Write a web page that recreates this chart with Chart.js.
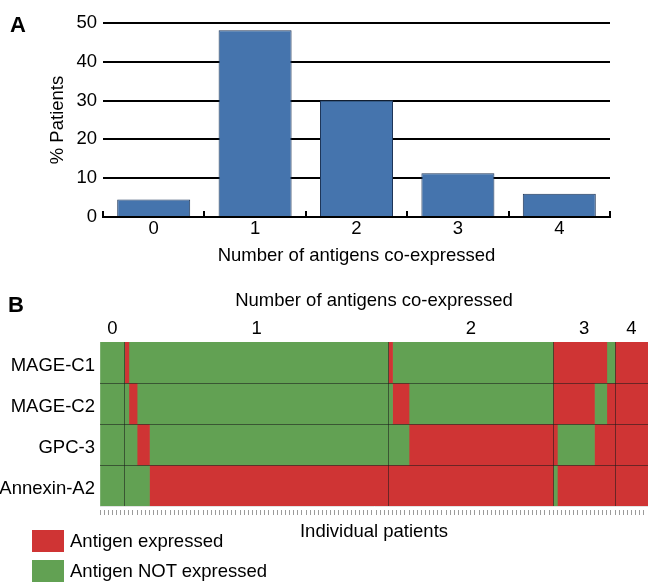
<!DOCTYPE html>
<html lang="en">
<head>
  <meta charset="UTF-8">
  <title>Antigen co-expression</title>
  <script src="https://cdn.jsdelivr.net/npm/chart.js"></script>
  <style>
    body { margin: 0; background: #fff; font-family: "Liberation Sans", Arial, sans-serif; }
    .wrap { position: relative; width: 648px; height: 583px; overflow: hidden; }
    canvas { position: absolute; left: 0; }
    #chartA { top: 0; }
    #chartB { top: 280px; }
    .panel { position: absolute; font-weight: bold; font-size: 22px; line-height: 22px; }
    .legend { position: absolute; left: 32px; top: 530px; font-size: 18.5px; }
    .legend div { display: flex; align-items: center; height: 22px; margin-bottom: 8px; }
    .legend span { display: inline-block; width: 32px; height: 22px; margin-right: 6px; }
  </style>
</head>
<body>
<div class="wrap">
  <canvas id="chartA" width="648" height="270"></canvas>
  <canvas id="chartB" width="648" height="265"></canvas>
  <div class="panel" style="left:10px; top:14px;">A</div>
  <div class="panel" style="left:8px; top:294px;">B</div>
  <div class="legend">
    <div><span style="background:#cf3434"></span>Antigen expressed</div>
    <div><span style="background:#62a153"></span>Antigen NOT expressed</div>
  </div>
</div>

<script>
  // Panel A: % of patients by number of co-expressed antigens
  const categories = ['0', '1', '2', '3', '4'];
  const percentPatients = [4.5, 48.1, 30.1, 11.3, 6.0];

  // Panel B: one row per antigen, patients sorted by group
  const antigens = ['MAGE-C1', 'MAGE-C2', 'GPC-3', 'Annexin-A2'];
  const groupLabels = ['0', '1', '2', '3', '4'];
  const groupSizes = [6, 64, 40, 15, 8];
  // runs along the patient axis: [expressed 1 / not 0, number of patients]
  const mageC1Runs = [[0, 6], [1, 1], [0, 63], [1, 1], [0, 39], [1, 13], [0, 2], [1, 8]];
  const mageC2Runs = [[0, 7], [1, 2], [0, 62], [1, 4], [0, 35], [1, 10], [0, 3], [1, 10]];
  const gpc3Runs = [[0, 9], [1, 3], [0, 63], [1, 36], [0, 9], [1, 13]];
  const annexinRuns = [[0, 12], [1, 98], [0, 1], [1, 22]];

  const RED = '#cf3434';
  const GREEN = '#62a153';
  const SEP = 'rgba(25, 25, 25, 0.55)';

  Chart.defaults.font.family = '"Liberation Sans", Arial, sans-serif';
  Chart.defaults.font.size = 18.5;
  Chart.defaults.color = '#000';

  const totalPatients = groupSizes.reduce((a, b) => a + b, 0);
  const boundaries = [];
  const groupCenters = [];
  let acc = 0;
  groupSizes.forEach((n, i) => {
    groupCenters.push(acc + n / 2);
    acc += n;
    if (i < groupSizes.length - 1) boundaries.push(acc);
  });
  const patientTicks = [];
  for (let i = 0; i <= totalPatients; i++) patientTicks.push(i);

  // one floating bar per run
  const heatSets = [];
  [mageC1Runs, mageC2Runs, gpc3Runs, annexinRuns].forEach((runs, row) => {
    let start = 0;
    runs.forEach(([expressed, n]) => {
      const data = antigens.map(() => null);
      data[row] = [start, start + n];
      heatSets.push({
        data,
        backgroundColor: expressed ? RED : GREEN,
        borderWidth: 0,
        grouped: false,
        barPercentage: 1,
        categoryPercentage: 1,
        xAxisID: 'x',
        yAxisID: 'y'
      });
      start += n;
    });
  });

  new Chart(document.getElementById('chartA'), {
    type: 'bar',
    data: {
      labels: categories,
      datasets: [{
        data: percentPatients,
        backgroundColor: '#4574ad',
        borderColor: '#1f3658',
        borderWidth: 1,
        barPercentage: 0.72,
        categoryPercentage: 1
      }]
    },
    options: {
      responsive: false,
      animation: false,
      layout: { padding: { top: 23, right: 38, left: 0, bottom: 0 } },
      plugins: { legend: { display: false }, tooltip: { enabled: false } },
      scales: {
        x: {
          afterFit: s => { s.height = 53; },
          grid: { offset: true, drawOnChartArea: false, tickLength: -6, color: '#000', lineWidth: 2 },
          border: { color: '#000', width: 2 },
          ticks: { padding: 7 },
          title: { display: true, text: 'Number of antigens co-expressed', padding: { top: 0, bottom: 3 } }
        },
        y: {
          min: 0,
          max: 50,
          afterFit: s => { s.width = 103; },
          ticks: { stepSize: 10, padding: 6 },
          grid: { color: '#000', lineWidth: 2, drawTicks: false },
          border: { display: false },
          title: { display: true, text: '% Patients', padding: { top: 47, bottom: 0 } }
        }
      }
    }
  });

  new Chart(document.getElementById('chartB'), {
    type: 'bar',
    data: { labels: antigens, datasets: heatSets },
    options: {
      indexAxis: 'y',
      responsive: false,
      animation: false,
      layout: { padding: 0 },
      plugins: { legend: { display: false }, tooltip: { enabled: false } },
      scales: {
        x: {
          type: 'linear',
          position: 'bottom',
          min: 0,
          max: totalPatients,
          afterFit: s => { s.height = 39; },
          afterBuildTicks: s => { s.ticks = patientTicks.map(v => ({ value: v })); },
          ticks: { display: false },
          grid: {
            z: 1,
            color: ctx => (ctx.tick && boundaries.includes(ctx.tick.value)) ? SEP : 'rgba(0,0,0,0)',
            tickColor: '#9b9b9b',
            tickLength: 9,
            tickBorderDash: [0, 3, 6, 20]
          },
          border: { color: '#e2e2e2', z: 2 },
          title: { display: true, text: 'Individual patients', padding: { top: 0, bottom: 2 } }
        },
        xTop: {
          type: 'linear',
          position: 'top',
          min: 0,
          max: totalPatients,
          afterFit: s => { s.height = 62; },
          afterBuildTicks: s => { s.ticks = groupCenters.map(v => ({ value: v })); },
          ticks: { autoSkip: false, padding: 2, callback: (v, i) => groupLabels[i] },
          grid: { display: false, drawTicks: false },
          border: { display: false },
          title: { display: true, text: 'Number of antigens co-expressed', padding: { top: 10, bottom: 0 } }
        },
        y: {
          afterFit: s => { s.width = 100; },
          grid: {
            z: 1,
            offset: true,
            drawTicks: false,
            color: ctx => (ctx.index > 0 && ctx.index < antigens.length) ? SEP : 'rgba(0,0,0,0)'
          },
          border: { display: false },
          ticks: { padding: 5, labelOffset: 3 }
        }
      }
    }
  });
</script>
</body>
</html>
